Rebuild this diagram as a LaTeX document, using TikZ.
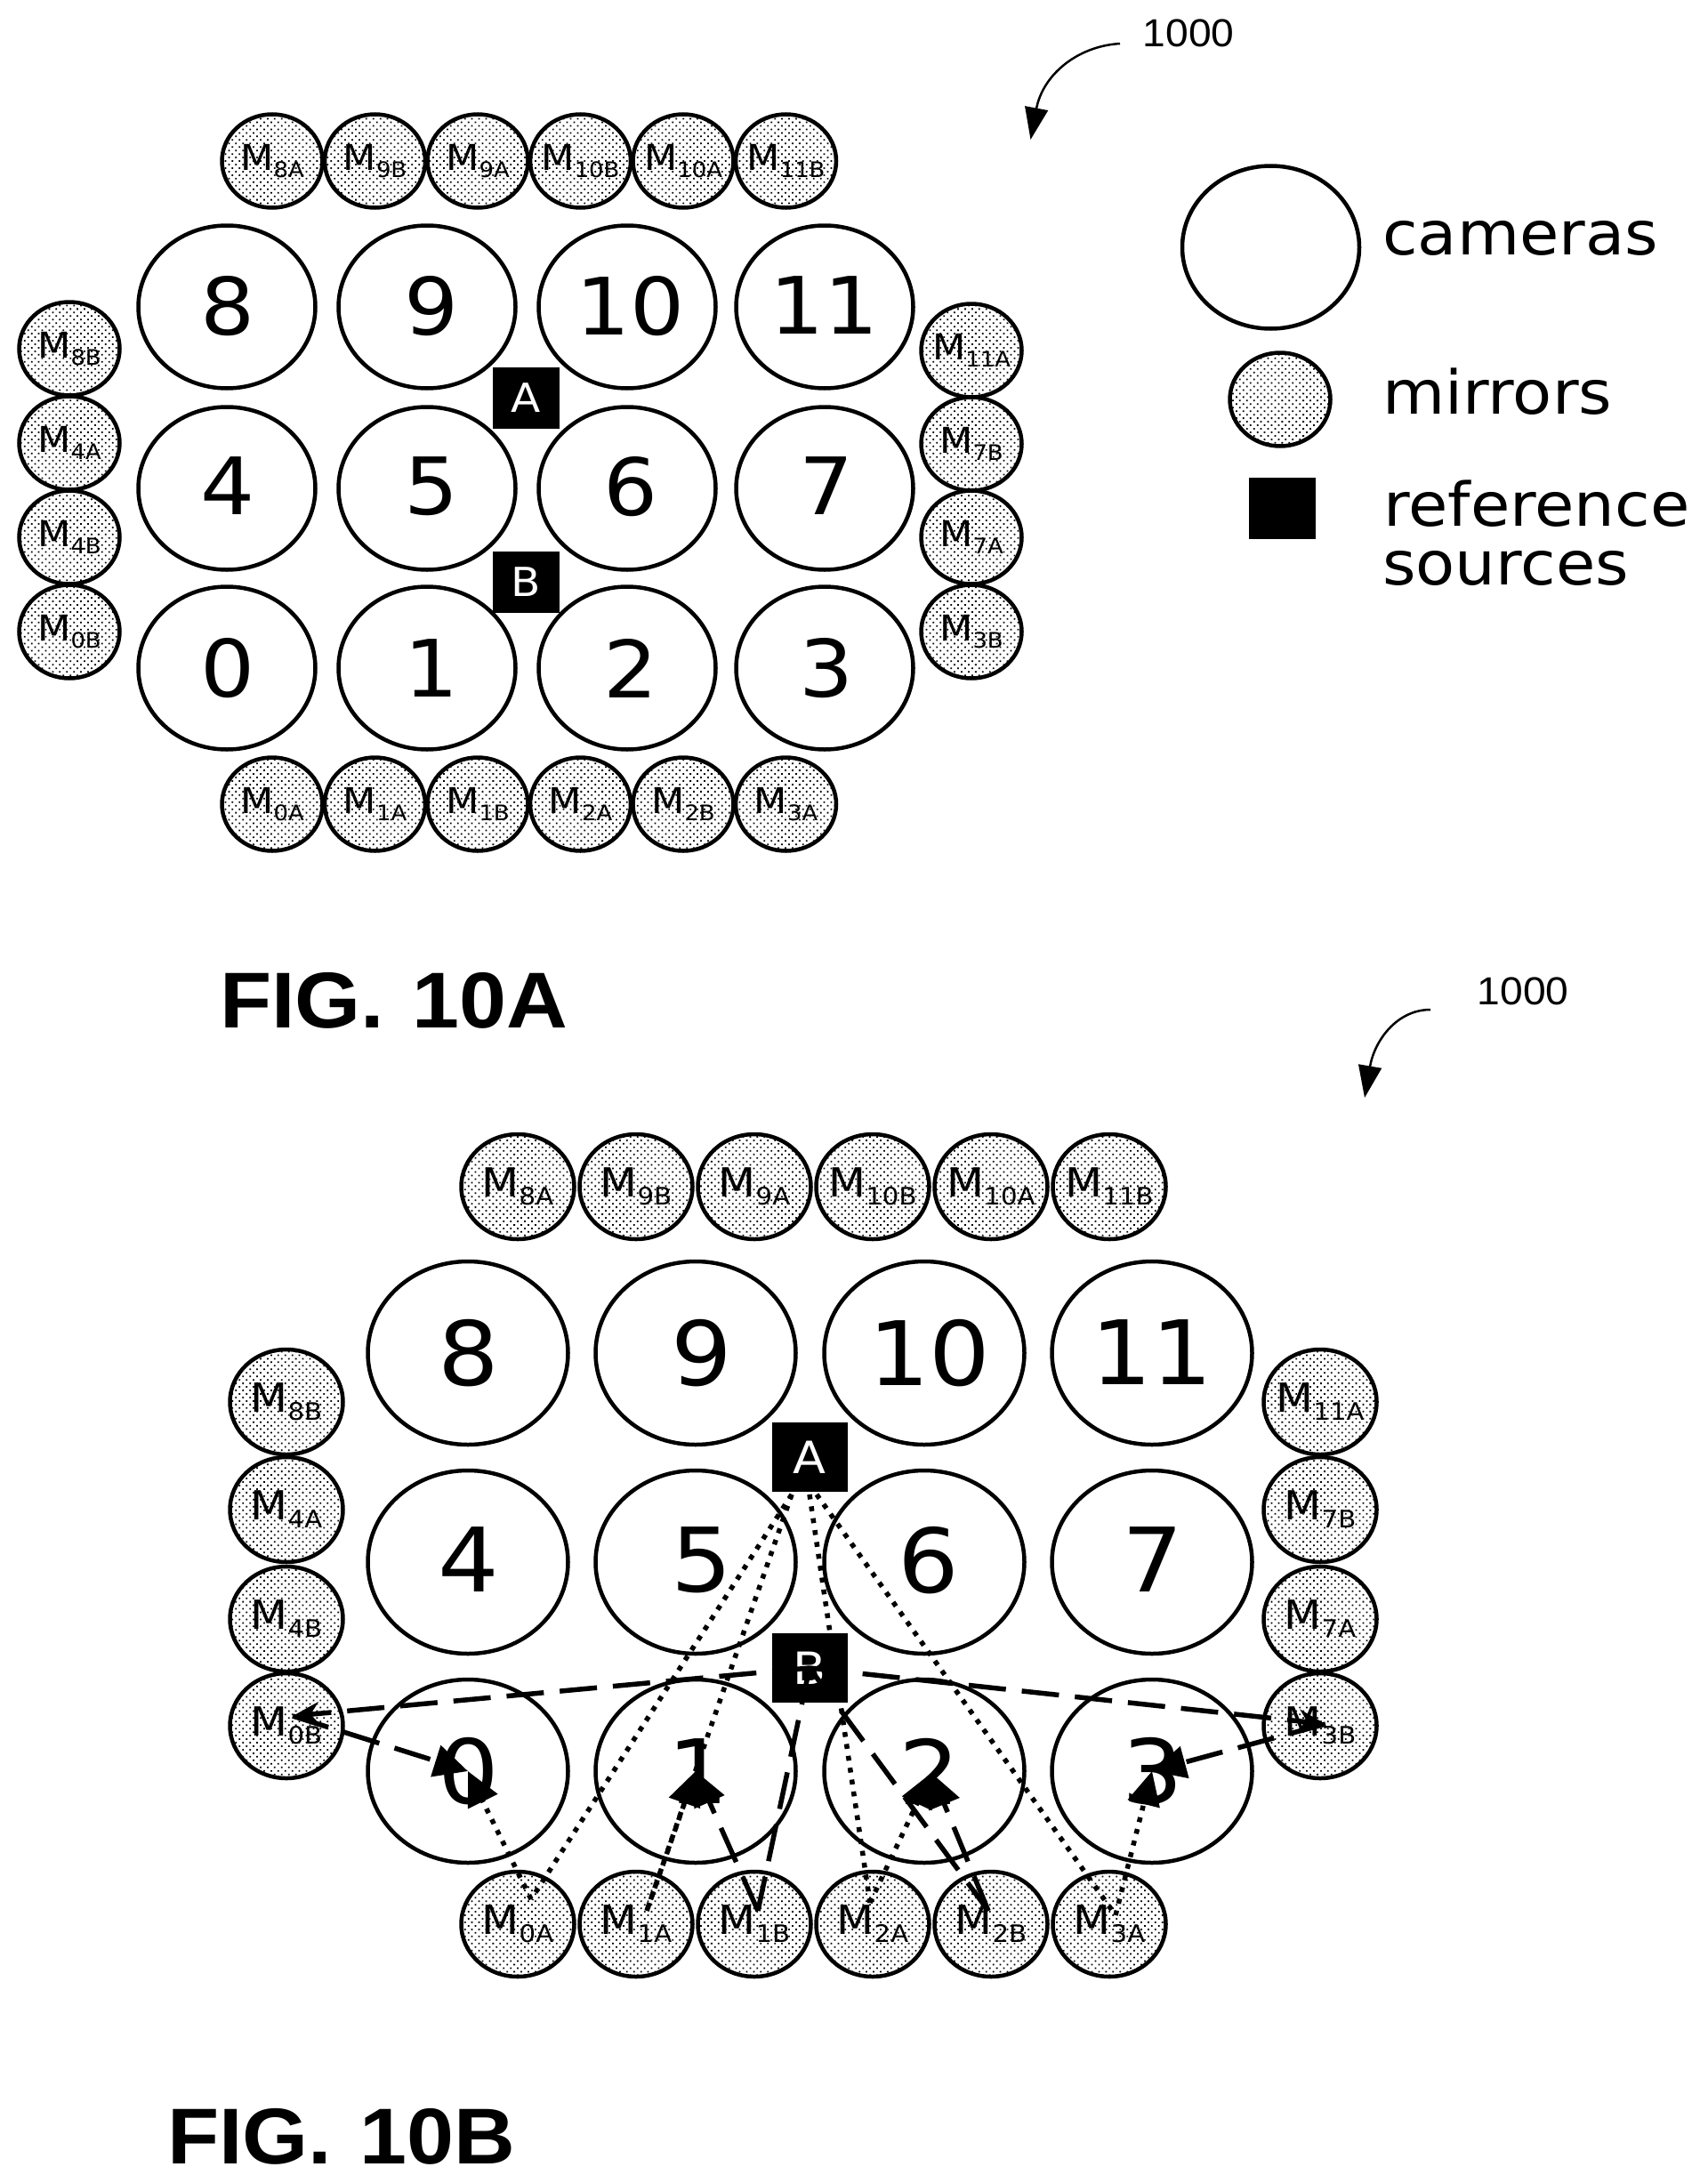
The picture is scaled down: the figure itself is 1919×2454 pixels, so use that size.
\documentclass[tikz,border=0pt]{standalone}
\usepackage{fontspec}
\usetikzlibrary{shapes.geometric,arrows.meta,patterns.meta}
\setmainfont[FakeStretch=1.08]{DejaVu Sans}
\newfontfamily\legf[FakeStretch=1.06]{DejaVu Sans}
\newfontfamily\helv[FakeStretch=1.05]{Liberation Sans}
\newfontfamily\figf[FakeStretch=1.07]{Liberation Sans}
\newcommand{\fsz}[1]{\fontsize{#1}{#1}\selectfont}
\newcommand{\mA}[1]{\makebox[0pt]{M\raisebox{-8pt}{\fsz{24}#1}}}
\newcommand{\mB}[1]{\makebox[0pt]{M\raisebox{-9pt}{\fsz{27}#1}}}
\newcommand{\dg}[3]{\makebox[0pt]{\hspace{#1pt}\raisebox{#2pt}{#3}\hspace{-#1pt}}}
\tikzset{
  stipple/.style={pattern={Dots[distance=5.6pt,angle=45,radius=1.25pt]},pattern color=black},
  camA/.style={draw,ellipse,inner sep=0pt,line width=4.5pt,minimum width=199pt,minimum height=183pt,font=\fsz{89}},
  camB/.style={draw,ellipse,inner sep=0pt,line width=4.5pt,minimum width=225pt,minimum height=206pt,font=\fsz{100}},
  mirA/.style={draw,ellipse,inner sep=0pt,line width=4.5pt,minimum width=113pt,minimum height=105pt,stipple,font=\fsz{40}},
  mirB/.style={draw,ellipse,inner sep=0pt,line width=4.5pt,minimum width=127pt,minimum height=118pt,stipple,font=\fsz{45}},
  srcA/.style={rectangle,fill=black,text=white,inner sep=0pt,minimum width=75pt,minimum height=69pt,font=\fsz{45}},
  srcB/.style={rectangle,fill=black,text=white,inner sep=0pt,minimum width=85pt,minimum height=78pt,font=\fsz{50}},
  legtext/.style={anchor=base west,inner sep=0pt,font=\legf\fsz{68}},
  figtitle/.style={anchor=base west,inner sep=0pt,font=\figf\bfseries\fsz{89}},
  refnum/.style={inner sep=0pt,font=\helv\fsz{44}},
  refarrow/.style={line width=2.5pt,-{Triangle[length=36pt,width=26pt]}},
  raydot/.style={line width=5.5pt,dash pattern=on 5.5pt off 8pt},
  raydash/.style={line width=5.5pt,dash pattern=on 42pt off 18pt},
  camtip/.style={-{Triangle[length=38pt,width=36pt]}},
  mirtip/.style={-{Stealth[length=30pt,width=26pt]}}
}
\begin{document}
\begin{tikzpicture}[x=1pt,y=-1pt]
\path[use as bounding box,fill=white] (0,0) rectangle (1919,2454);

% ---------- FIG. 10A ----------
\foreach \n/\x/\y/\dx/\dy in {8/255/345/1/3,9/480/345/5/3,10/705/345/4/3,11/927/345/0/3,
                      4/255/549/1/5,5/480/549/5/5,6/705/549/4/5,7/927/549/2/5,
                      0/255/751/1/0,1/480/751/5/0,2/705/751/4/0,3/927/751/2/0}
  \node[camA] (ac\n) at (\x,\y) {\dg{\dx}{\dy}{\n}};
\foreach \n/\x in {8A/306,9B/421.5,9A/537,10B/652.5,10A/768,11B/883.5}
  \node[mirA] (am\n) at (\x,181) {\mA{\n}};
\foreach \n/\x in {0A/306,1A/421.5,1B/537,2A/652.5,2B/768,3A/883.5}
  \node[mirA] (am\n) at (\x,904) {\mA{\n}};
\foreach \n/\y in {8B/392,4A/498,4B/604,0B/710}
  \node[mirA] (am\n) at (78,\y) {\mA{\n}};
\foreach \n/\y in {11A/394,7B/499,7A/604,3B/710}
  \node[mirA] (am\n) at (1092,\y) {\mA{\n}};
\node[srcA] (asrcA) at (591,447) {A};
\node[srcA] (asrcB) at (591,654) {B};

% legend
\node[camA] (lcam) at (1428.5,278) {};
\node[mirA] (lmir) at (1439,449) {};
\node[srcA] (lsrc) at (1441,571) {};
\node[legtext] (tcam) at (1554,286) {cameras};
\node[legtext] (tmir) at (1554,465) {mirrors};
\node[legtext] (tref) at (1555,591) {reference};
\node[legtext] (tsou) at (1554,657) {sources};

% reference numeral A
\node[refnum] (numA) at (1336,37) {1000};
\coordinate (numAs) at (1259,49);
\coordinate (numAt) at (1158.5,157);
\draw[refarrow] (numAs) .. controls (1210,52) and (1172,85) .. (numAt);
\node[figtitle] (titleA) at (247,1155) {FIG.\hspace{5pt} 10A};

% ---------- FIG. 10B ----------
\foreach \n/\x/\y/\dx/\dy in {8/526/1521/1/2,9/782/1521/7/2,10/1039/1521/6/2,11/1295/1521/0/2,
                      4/526/1756/1/6,5/782/1756/7/6,6/1039/1756/5/6,7/1295/1756/1/6,
                      0/526/1991/1/0,1/782/1991/3/0,2/1039/1991/6/0,3/1295/1991/1/0}
  \node[camB] (bc\n) at (\x,\y) {\dg{\dx}{\dy}{\n}};
\foreach \n/\x in {8A/582,9B/715,9A/848,10B/981,10A/1114,11B/1247}
  \node[mirB] (bm\n) at (\x,1334) {\mB{\n}};
\foreach \n/\x in {0A/582,1A/715,1B/848,2A/981,2B/1114,3A/1247}
  \node[mirB] (bm\n) at (\x,2163) {\mB{\n}};
\foreach \n/\y in {8B/1576,4A/1697,4B/1820,0B/1940}
  \node[mirB] (bm\n) at (322,\y) {\mB{\n}};
\foreach \n/\y in {11A/1576,7B/1697,7A/1820,3B/1940}
  \node[mirB] (bm\n) at (1484,\y) {\mB{\n}};
\node[srcB] (bsrcA) at (910,1638) {A};
\node[srcB] (bsrcB) at (910,1875) {B};

% ray end points
\coordinate (aL) at (890,1680);
\coordinate (aM) at (910,1680);
\coordinate (aR) at (918,1680);
\coordinate (hit0A) at (597,2135);
\coordinate (hit1A) at (727,2148);
\coordinate (hit1B) at (852,2148);
\coordinate (hit2A) at (978,2139);
\coordinate (hit2B) at (1111,2148);
\coordinate (hit3A) at (1254,2153);
\coordinate (hit0B) at (329,1929);
\coordinate (hit3B) at (1490,1938);
\coordinate (cam2t) at (1047,1993);

% dotted rays from A
\draw[raydot] (aL) -- (hit0A);
\draw[raydot] (aL) -- (hit1A);
\draw[raydot] (aM) -- (hit2A);
\draw[raydot] (aR) -- (hit3A);
\draw[raydot,camtip] (hit0A) -- (bc0.center);
\draw[raydot,camtip] (hit1A) -- (bc1.center);
\draw[raydot,camtip] (hit2A) -- (cam2t);
\draw[raydot,camtip] (hit3A) -- (bc3.center);

% dashed rays from B
\draw[raydash,mirtip] (bsrcB.center) -- (hit0B);
\draw[raydash,mirtip] (bsrcB.center) -- (hit3B);
\draw[raydash] (bsrcB.center) -- (hit1B);
\draw[raydash] (bsrcB.center) -- (hit2B);
\draw[raydash,camtip] (hit0B) -- (bc0.center);
\draw[raydash,camtip] (hit3B) -- (bc3.center);
\draw[raydash,camtip] (hit1B) -- (bc1.center);
\draw[raydash,camtip] (hit2B) -- (cam2t);

% reference numeral B
\node[refnum] (numB) at (1712,1114) {1000};
\coordinate (numBs) at (1608,1135);
\coordinate (numBt) at (1534,1234);
\draw[refarrow] (numBs) .. controls (1570,1135) and (1545,1170) .. (numBt);
\node[figtitle] (titleB) at (188,2432) {FIG.\hspace{5pt} 10B};
\end{tikzpicture}
\end{document}
